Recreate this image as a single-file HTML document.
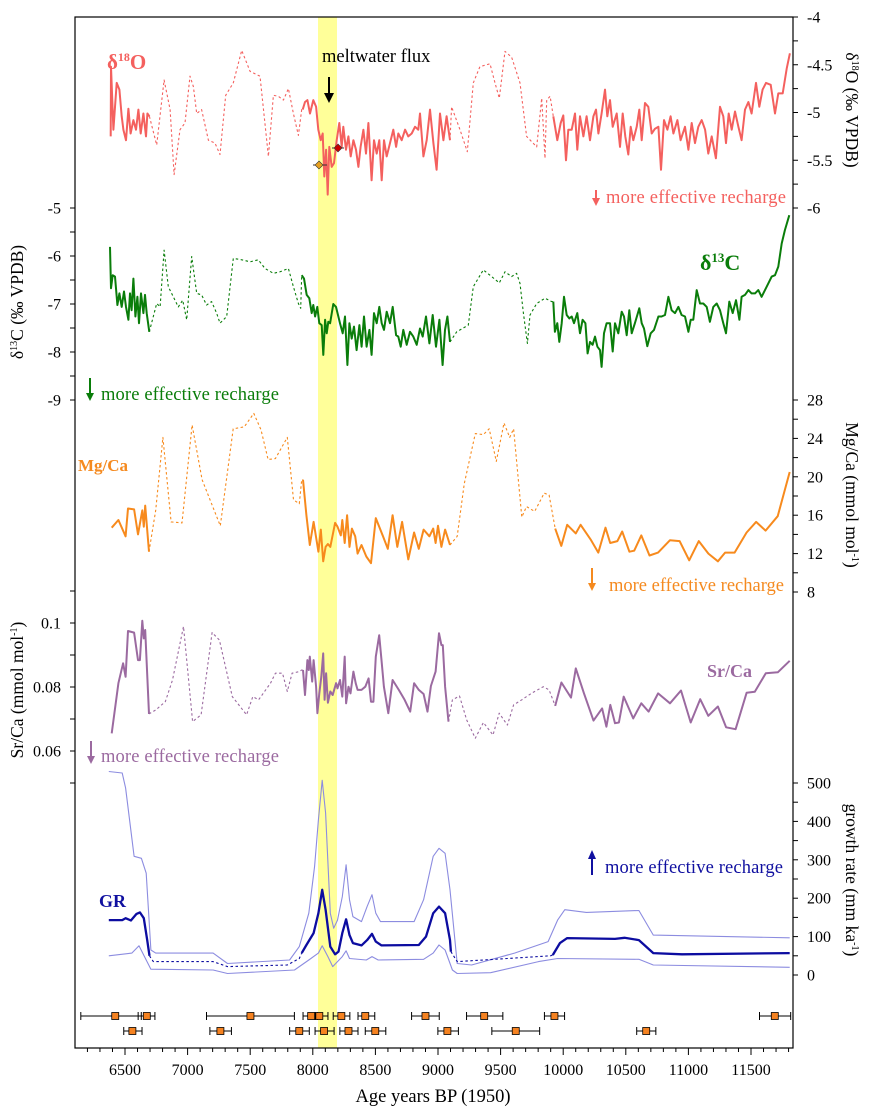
<!DOCTYPE html>
<html><head><meta charset="utf-8"><style>
html,body{margin:0;padding:0;background:#fff;}
svg{display:block;font-family:"Liberation Serif",serif;}
</style></head><body>
<svg id="chart" width="871" height="1114" viewBox="0 0 871 1114" xmlns="http://www.w3.org/2000/svg">
<rect x="318" y="17" width="19" height="1031" fill="#ffff99"/>
<g id="marks"></g>
<g id="axes"></g>
<g id="annot">
<text x="107" y="69" fill="#f4605e" font-weight="bold" font-size="21">δ<tspan font-size="12" dy="-8">18</tspan><tspan dy="8">O</tspan></text>
<text x="322" y="62" font-size="18.5" fill="#000">meltwater flux</text>
<line x1="329" y1="77" x2="329" y2="94" stroke="#000" stroke-width="2"/>
<polygon points="324,93 334,93 329,103" fill="#000"/>
<line x1="332" y1="148" x2="344" y2="148" stroke="#333" stroke-width="1"/>
<polygon points="338,144 342,148 338,152 334,148" fill="#cc0000" stroke="#333" stroke-width="0.6"/>
<line x1="313" y1="165" x2="327" y2="165" stroke="#333" stroke-width="1"/>
<polygon points="319,161 323,165 319,169 315,165" fill="#e8a020" stroke="#333" stroke-width="0.6"/>

<line x1="596" y1="190" x2="596" y2="199" stroke="#f4605e" stroke-width="2"/>
<polygon points="592,198 600,198 596,206" fill="#f4605e"/>
<text x="606" y="203" font-size="18.5" fill="#f4605e" textLength="180">more effective recharge</text>

<text x="700" y="270" fill="#0a7d0a" font-weight="bold" font-size="22">δ<tspan font-size="13" dy="-8">13</tspan><tspan dy="8">C</tspan></text>
<line x1="90" y1="378" x2="90" y2="394" stroke="#0a7d0a" stroke-width="2"/>
<polygon points="86,393 94,393 90,401" fill="#0a7d0a"/>
<text x="101" y="400" font-size="18.5" fill="#0a7d0a" textLength="178">more effective recharge</text>

<text x="78" y="471" fill="#f58a1f" font-weight="bold" font-size="17">Mg/Ca</text>
<line x1="592" y1="568" x2="592" y2="584" stroke="#f58a1f" stroke-width="2"/>
<polygon points="588,583 596,583 592,591" fill="#f58a1f"/>
<text x="609" y="591" font-size="18.5" fill="#f58a1f" textLength="175">more effective recharge</text>

<text x="707" y="677" fill="#9b6aa0" font-weight="bold" font-size="18">Sr/Ca</text>
<line x1="91" y1="741" x2="91" y2="757" stroke="#9b6aa0" stroke-width="2"/>
<polygon points="87,756 95,756 91,764" fill="#9b6aa0"/>
<text x="101" y="762" font-size="18.5" fill="#9b6aa0" textLength="178">more effective recharge</text>

<text x="99" y="907" fill="#1010a0" font-weight="bold" font-size="18">GR</text>
<line x1="592" y1="858" x2="592" y2="875" stroke="#1010a0" stroke-width="2"/>
<polygon points="588,859 596,859 592,850" fill="#1010a0"/>
<text x="605" y="873" font-size="18.5" fill="#1010a0" textLength="178">more effective recharge</text>

<text transform="translate(846,110) rotate(90)" text-anchor="middle" font-size="17.5">δ<tspan font-size="10" dy="-6">18</tspan><tspan dy="6">O (‰ VPDB)</tspan></text>
<text transform="translate(23,302) rotate(-90)" text-anchor="middle" font-size="17.5">δ<tspan font-size="10" dy="-6">13</tspan><tspan dy="6">C (‰ VPDB)</tspan></text>
<text transform="translate(846,495) rotate(90)" text-anchor="middle" font-size="17.5">Mg/Ca (mmol mol<tspan font-size="10" dy="-6">-1</tspan><tspan dy="6">)</tspan></text>
<text transform="translate(23,690) rotate(-90)" text-anchor="middle" font-size="17.5">Sr/Ca (mmol mol<tspan font-size="10" dy="-6">-1</tspan><tspan dy="6">)</tspan></text>
<text transform="translate(846,880) rotate(90)" text-anchor="middle" font-size="17.5">growth rate (mm ka<tspan font-size="10" dy="-6">-1</tspan><tspan dy="6">)</tspan></text>
<text x="433" y="1102" text-anchor="middle" font-size="18.5">Age years BP (1950)</text>
</g>
</svg>
<script>
// ---------- data ----------
const d18Age=[6386,6388,6407,6434,6455,6474,6487,6508,6527,6545,6567,6588,6607,6625,6647,6668,6679,6695,6753,6812,6860,6892,6939,6979,7019,7046,7073,7112,7166,7219,7259,7304,7365,7432,7499,7578,7645,7685,7725,7765,7805,7845,7885,7911,7919,7938,7957,7978,8004,8026,8044,8063,8079,8092,8106,8119,8132,8151,8169,8191,8212,8231,8244,8265,8284,8303,8324,8345,8364,8382,8404,8425,8444,8470,8489,8510,8531,8550,8569,8590,8617,8643,8665,8683,8710,8737,8763,8790,8816,8843,8856,8883,8910,8936,8963,8989,9016,9043,9069,9096,9109,9176,9234,9282,9335,9415,9455,9490,9535,9588,9655,9708,9788,9828,9855,9868,9895,9921,9953,9980,10001,10022,10041,10068,10094,10113,10134,10161,10187,10214,10241,10262,10281,10307,10334,10352,10374,10395,10427,10454,10475,10496,10520,10539,10560,10587,10608,10627,10653,10680,10707,10733,10760,10781,10805,10832,10858,10880,10912,10938,10973,11000,11026,11053,11079,11106,11133,11159,11186,11220,11252,11279,11300,11322,11346,11372,11399,11425,11452,11479,11505,11540,11566,11593,11620,11657,11692,11718,11753,11785,11811];
const d18Val=[-5.25,-4.52,-5.18,-4.69,-4.76,-5.04,-5.18,-5.29,-4.96,-5.22,-5.08,-5.18,-4.97,-5.22,-5.01,-5.25,-5.01,-5.04,-5.34,-4.66,-4.97,-5.65,-5.18,-5.11,-4.62,-4.73,-5.01,-4.97,-5.29,-5.32,-5.44,-4.82,-4.69,-4.35,-4.57,-4.62,-5.46,-4.82,-4.83,-4.87,-4.75,-5.01,-5.24,-4.97,-4.97,-4.89,-4.87,-5.01,-4.87,-4.94,-5.18,-5.29,-5.22,-5.67,-5.39,-5.86,-5.36,-5.57,-5.53,-5.29,-5.11,-5.36,-5.15,-5.39,-5.25,-5.46,-5.29,-5.39,-5.57,-5.36,-5.18,-5.43,-5.11,-5.71,-5.29,-5.43,-5.29,-5.71,-5.29,-5.46,-5.32,-5.18,-5.36,-5.22,-5.29,-5.18,-5.25,-5.22,-5.15,-5.18,-5.01,-5.46,-5.29,-4.97,-5.32,-5.60,-5.01,-5.29,-5.04,-5.29,-4.94,-5.18,-5.41,-4.69,-4.52,-4.49,-4.69,-4.85,-4.36,-4.42,-4.69,-5.25,-5.36,-4.85,-5.48,-4.87,-4.83,-5.04,-5.29,-5.11,-5.03,-5.50,-5.18,-5.18,-5.01,-5.39,-5.04,-5.25,-5.04,-5.29,-5.04,-4.97,-5.22,-5.01,-4.76,-5.04,-4.87,-5.15,-5.01,-5.36,-5.01,-5.25,-5.44,-5.15,-5.29,-5.15,-4.97,-5.29,-4.90,-4.94,-5.22,-5.17,-5.15,-5.60,-5.08,-5.18,-5.04,-5.22,-5.08,-5.29,-5.15,-5.39,-5.11,-5.32,-5.15,-5.08,-5.18,-5.43,-5.25,-5.48,-4.94,-5.04,-5.32,-5.01,-5.18,-4.99,-5.15,-5.29,-4.97,-4.89,-5.01,-4.69,-4.94,-4.76,-4.69,-4.71,-5.01,-4.80,-4.80,-4.54,-4.38];
const d18Solid=[[6380,6700],[7915,9100],[9915,11820]];

const d13Age=[6380,6388,6402,6420,6439,6455,6474,6492,6508,6527,6540,6553,6567,6583,6599,6612,6628,6647,6660,6673,6694,6726,6753,6780,6812,6846,6886,6926,6961,6993,7033,7073,7112,7152,7192,7232,7259,7312,7365,7432,7499,7565,7618,7685,7738,7805,7845,7885,7903,7911,7930,7951,7972,7991,8004,8018,8036,8052,8071,8084,8098,8111,8124,8138,8164,8185,8217,8239,8257,8276,8292,8311,8329,8350,8372,8390,8409,8430,8452,8470,8489,8510,8531,8550,8569,8590,8617,8638,8665,8683,8702,8723,8750,8776,8803,8830,8856,8878,8904,8931,8958,8984,9011,9037,9056,9075,9096,9149,9242,9282,9362,9429,9490,9535,9588,9628,9655,9682,9714,9735,9788,9855,9908,9921,9934,9953,9969,9988,10006,10028,10049,10068,10086,10113,10134,10155,10177,10195,10214,10235,10254,10273,10294,10307,10326,10347,10374,10395,10414,10440,10467,10486,10507,10528,10547,10573,10608,10627,10645,10672,10699,10725,10760,10786,10813,10840,10866,10893,10920,10946,10973,11000,11018,11039,11066,11093,11119,11146,11172,11199,11226,11252,11279,11300,11327,11354,11380,11407,11425,11452,11479,11505,11532,11558,11585,11612,11638,11665,11692,11718,11745,11771,11806];
const d13Val=[-5.81,-6.67,-6.40,-6.43,-7.02,-6.78,-7.06,-6.74,-7.06,-7.33,-6.78,-7.13,-6.47,-7.26,-6.85,-7.40,-6.78,-7.19,-6.81,-7.19,-7.58,-7.26,-6.99,-7.06,-5.88,-6.64,-6.85,-7.06,-6.92,-7.33,-6.01,-6.78,-6.81,-7.02,-6.95,-7.19,-7.40,-7.26,-6.05,-6.08,-6.12,-6.08,-6.26,-6.36,-6.33,-6.26,-6.64,-6.99,-7.09,-6.40,-6.47,-6.81,-6.88,-7.19,-7.02,-7.26,-7.06,-7.40,-7.44,-8.06,-7.33,-7.61,-7.37,-7.40,-7.00,-7.06,-7.40,-7.61,-7.26,-8.27,-7.40,-7.72,-7.47,-7.96,-7.44,-7.89,-7.26,-7.89,-7.54,-8.06,-7.19,-7.40,-7.06,-7.40,-7.54,-7.16,-7.40,-7.06,-7.65,-7.68,-7.89,-7.54,-7.85,-7.58,-7.68,-7.85,-7.51,-7.68,-7.26,-7.82,-7.23,-7.89,-7.33,-8.27,-7.54,-7.26,-7.79,-7.58,-7.44,-6.64,-6.29,-6.43,-6.56,-6.33,-6.43,-6.36,-6.57,-7.19,-7.82,-7.23,-6.99,-6.88,-6.95,-6.95,-7.58,-7.40,-7.79,-7.40,-6.85,-7.23,-7.30,-7.26,-7.40,-7.19,-7.61,-7.33,-7.40,-8.03,-7.79,-7.85,-7.68,-7.89,-7.96,-8.31,-7.61,-7.40,-7.40,-7.99,-7.40,-7.61,-7.16,-7.26,-7.65,-7.13,-7.61,-7.40,-7.09,-7.40,-7.51,-7.88,-7.61,-7.54,-7.26,-7.26,-7.23,-6.85,-7.13,-7.19,-7.06,-7.23,-7.26,-7.58,-7.33,-7.33,-6.71,-6.99,-6.99,-7.06,-7.37,-7.06,-6.99,-7.13,-7.40,-7.61,-6.95,-7.19,-6.92,-7.33,-6.85,-6.81,-6.71,-6.78,-6.78,-6.71,-6.85,-6.71,-6.57,-6.43,-6.40,-6.22,-5.74,-5.46,-5.15];
const d13Solid=[[6375,6700],[7905,9100],[9915,11820]];

const mgAge=[6394,6447,6505,6524,6573,6604,6638,6650,6661,6692,6745,6803,6868,6955,7036,7116,7261,7364,7452,7529,7586,7643,7701,7796,7846,7892,7911,7922,7949,7976,8006,8045,8064,8083,8102,8121,8140,8178,8197,8224,8236,8255,8274,8293,8312,8339,8358,8389,8427,8465,8503,8561,8599,8637,8675,8713,8763,8809,8847,8885,8931,8962,8981,9000,9027,9057,9096,9153,9210,9298,9363,9409,9466,9527,9573,9604,9669,9707,9772,9848,9887,9936,9985,10032,10101,10139,10223,10280,10338,10375,10433,10471,10529,10567,10624,10689,10758,10853,10930,11006,11083,11160,11236,11293,11369,11465,11541,11617,11713,11809];
const mgVal=[14.7,15.5,13.8,16.7,16.6,14.0,16.5,14.8,17.0,12.2,16.5,24.1,15.3,15.2,25.4,19.7,14.9,25.0,25.2,26.6,24.9,21.8,21.9,24.1,17.6,17.2,19.7,19.7,16.0,12.9,15.3,12.2,14.5,11.2,12.7,13.0,12.7,15.2,14.8,13.9,15.5,13.1,16.0,12.7,14.6,13.8,12.0,12.9,11.7,11.0,15.7,13.8,12.5,16.0,12.7,15.3,11.4,14.2,12.5,14.5,13.8,14.6,13.1,14.9,12.7,14.5,12.9,13.8,19.3,24.5,24.4,25.0,21.6,25.6,24.1,25.0,15.8,16.9,16.4,18.3,18.1,14.6,12.8,15.0,14.1,15.0,13.4,12.1,14.7,13.1,13.3,14.3,12.2,12.3,13.9,11.8,12.1,13.4,13.3,11.3,13.3,12.0,11.2,12.1,12.1,14.2,15.3,14.4,15.9,20.5];
const mgSolid=[[6390,6695],[7920,9100],[9930,11820]];

const srAge=[6394,6447,6485,6505,6524,6573,6604,6619,6638,6650,6661,6692,6745,6822,6879,6967,7040,7108,7196,7254,7357,7471,7521,7567,7662,7701,7758,7796,7835,7892,7911,7922,7938,7957,7968,7976,7995,8006,8026,8037,8052,8068,8083,8094,8106,8121,8140,8159,8186,8197,8217,8236,8255,8266,8285,8301,8324,8343,8358,8389,8419,8446,8465,8484,8503,8530,8549,8568,8603,8637,8687,8733,8778,8809,8847,8885,8916,8943,8981,9008,9027,9038,9057,9084,9115,9172,9229,9298,9363,9439,9489,9554,9604,9669,9745,9841,9887,9936,9986,10062,10101,10166,10242,10311,10345,10376,10414,10445,10483,10559,10624,10682,10758,10853,10941,11018,11094,11159,11236,11301,11377,11465,11530,11618,11714,11809];
const srVal=[0.0655,0.0812,0.0874,0.0832,0.0975,0.0970,0.0884,0.0884,0.1007,0.0952,0.0978,0.0716,0.0728,0.0754,0.0822,0.0989,0.0692,0.0713,0.0970,0.0947,0.0770,0.0713,0.0770,0.0760,0.0812,0.0843,0.0843,0.0786,0.0843,0.0848,0.0853,0.0853,0.0775,0.0884,0.0853,0.0895,0.0817,0.0884,0.0801,0.0718,0.0780,0.0832,0.0905,0.0760,0.0843,0.0751,0.0786,0.0775,0.0812,0.0796,0.0822,0.0770,0.0895,0.0749,0.0801,0.0780,0.0848,0.0812,0.0791,0.0791,0.0801,0.0827,0.0754,0.0754,0.0895,0.0962,0.0884,0.0801,0.0718,0.0822,0.0791,0.0760,0.0723,0.0812,0.0791,0.0778,0.0723,0.0803,0.0848,0.0968,0.0931,0.0931,0.0801,0.0692,0.0760,0.0772,0.0697,0.0640,0.0689,0.0650,0.0718,0.0681,0.0744,0.0760,0.0780,0.0801,0.0791,0.0741,0.0814,0.0767,0.0858,0.0780,0.0695,0.0733,0.0676,0.0744,0.0687,0.0689,0.0770,0.0702,0.0749,0.0723,0.0780,0.0749,0.0789,0.0689,0.0762,0.0710,0.0739,0.0674,0.0668,0.0782,0.0785,0.0843,0.0846,0.0882];
const srSolid=[[6390,6695],[7920,9090],[9930,11820]];

const grAge=[6371,6478,6505,6547,6592,6619,6650,6677,6696,6726,7204,7319,7796,7892,7911,7949,8006,8045,8075,8102,8140,8178,8205,8236,8266,8293,8320,8389,8434,8473,8503,8549,8847,8904,8962,9008,9057,9096,9103,9153,9554,9898,9917,9974,10032,10414,10490,10605,10720,10949,11809];
const grVal=[143,143,148,142,159,163,148,91,50,35,35,22,26,43,57,78,109,161,222,170,74,54,61,109,145,104,83,77,91,107,87,77,78,100,161,178,161,91,61,35,43,50,52,83,96,94,97,91,57,54,57];
const grSolid=[[6365,6700],[7905,9105],[9915,11820]];
const grUpAge=[6371,6478,6505,6573,6631,6669,6707,6745,7204,7319,7815,7892,7968,8014,8045,8075,8102,8140,8167,8197,8236,8266,8293,8320,8389,8434,8473,8503,8541,8809,8885,8962,9008,9057,9096,9153,9268,9611,9879,9955,10013,10185,10605,10720,11809];
const grUpVal=[530,526,487,309,304,265,65,57,57,30,39,74,161,283,404,507,422,161,122,143,204,287,196,152,139,178,209,161,139,139,196,309,330,317,222,30,26,57,87,143,170,163,168,104,97];
const grLoAge=[6371,6554,6612,6669,6707,7204,7319,7854,7968,8045,8075,8121,8159,8236,8266,8293,8427,8473,8522,8885,8962,9008,9057,9115,9153,9420,9803,9955,10605,10720,11809];
const grLoVal=[50,57,76,39,15,13,4,13,39,57,76,48,22,48,63,43,39,48,39,41,57,78,65,13,4,6,35,43,41,26,20];

const dateRow1=[6422,6674,7502,7987,8052,8228,8419,8900,9369,9930,11690];
const dateRow1Lo=[6147,6605,7151,7922,8018,8163,8361,8789,9228,9850,11568];
const dateRow1Hi=[6630,6739,7853,8037,8121,8296,8495,9010,9518,10011,11817];
const dateRow2=[6559,7262,7892,8090,8285,8499,9075,9621,10663];
const dateRow2Lo=[6490,7178,7815,8018,8216,8419,8999,9430,10587];
const dateRow2Hi=[6636,7350,7972,8170,8361,8583,9163,9812,10740];

const xTicks=[6500,7000,7500,8000,8500,9000,9500,10000,10500,11000,11500];
const d18Ticks=[-4,-4.5,-5,-5.5,-6];
const d13Ticks=[-5,-6,-7,-8,-9];
const mgTicks=[8,12,16,20,24,28];
const srTicks=[0.06,0.08,0.1];
const grTicks=[0,100,200,300,400,500];

// ---------- scales ----------
const X0=75,X1=793,Y0=17,Y1=1048;
const x=a=>125+(a-6500)*0.1252;
const yD18=v=>17+(-4-v)*95.5;
const yD13=v=>208+(-5-v)*48;
const yMg=v=>400+(28-v)*9.6;
const ySr=v=>623+(0.1-v)*3200;
const yGR=v=>975-v*0.384;

const NS="http://www.w3.org/2000/svg";
const marks=document.getElementById('marks');
const axes=document.getElementById('axes');
function mk(tag,attrs,parent){const e=document.createElementNS(NS,tag);for(const k in attrs)e.setAttribute(k,attrs[k]);parent.appendChild(e);return e;}

function inSolid(a,ranges){return ranges.some(r=>a>=r[0]&&a<=r[1]);}
function drawSeries(ages,vals,ys,solid,color,sw,name){
  const g=mk('g',{},marks);
  
  
  let curType=null,pts=[];
  const flush=()=>{if(pts.length>1){const p=mk('polyline',{points:pts.join(' '),fill:'none',stroke:color,'stroke-width':curType?sw:1.1,'stroke-linejoin':'round','stroke-dasharray':curType?'none':'2.5,2.5'},g);
    
    }};
  for(let i=0;i<ages.length-1;i++){
    const t=solid?(inSolid(ages[i],solid)&&inSolid(ages[i+1],solid)):true;
    const p1=x(ages[i]).toFixed(1)+','+ys(vals[i]).toFixed(1), p2=x(ages[i+1]).toFixed(1)+','+ys(vals[i+1]).toFixed(1);
    if(t!==curType){flush();pts=[p1];curType=t;}
    pts.push(p2);
  }
  flush();
}
drawSeries(grUpAge,grUpVal,yGR,null,'#8c8ce0',1.1,'gr-upper-bound');
drawSeries(grLoAge,grLoVal,yGR,null,'#8c8ce0',1.1,'gr-lower-bound');
drawSeries(grAge,grVal,yGR,grSolid,'#0c0ca0',2.3,'growth-rate');
drawSeries(d18Age,d18Val,yD18,d18Solid,'#f4605e',2,'d18o');
drawSeries(d13Age,d13Val,yD13,d13Solid,'#0a7d0a',2,'d13c');
drawSeries(mgAge,mgVal,yMg,mgSolid,'#f78a1d',2,'mgca');
drawSeries(srAge,srVal,ySr,srSolid,'#9b6aa0',2,'srca');

function drawDates(c,lo,hi,yy,row){
  for(let i=0;i<c.length;i++){
    const g=mk('g',{},marks);
    
    
    mk('line',{x1:x(lo[i]),x2:x(hi[i]),y1:yy,y2:yy,stroke:'#000','stroke-width':1},g);
    mk('line',{x1:x(lo[i]),x2:x(lo[i]),y1:yy-4,y2:yy+4,stroke:'#000','stroke-width':1},g);
    mk('line',{x1:x(hi[i]),x2:x(hi[i]),y1:yy-4,y2:yy+4,stroke:'#000','stroke-width':1},g);
    mk('rect',{x:x(c[i])-3.5,y:yy-3.5,width:7,height:7,fill:'#f58220',stroke:'#000','stroke-width':0.8},g);
  }
}
drawDates(dateRow1,dateRow1Lo,dateRow1Hi,1016,'row1');
drawDates(dateRow2,dateRow2Lo,dateRow2Hi,1031,'row2');

const frame=mk('rect',{x:X0,y:Y0,width:X1-X0,height:Y1-Y0,fill:'none',stroke:'#000','stroke-width':1.2},axes);



for(let a=6200;a<=11800;a+=100){
  const major=a%500===0;
  const t=mk('line',{x1:x(a),x2:x(a),y1:Y1,y2:Y1+(major?7:4),stroke:'#000','stroke-width':1},axes);
  
  
}
xTicks.forEach(a=>{
  const t=mk('text',{x:x(a),y:Y1+27,'text-anchor':'middle','font-size':16},axes);
  t.textContent=a;
  
  
});

function yAxis(ticks,minorStep,lo,hi,ys,side,name,fmt){
  const xa=side==='r'?X1:X0, dir=side==='r'?1:-1;
  for(let v=lo;v<=hi+1e-9;v+=minorStep){
    const t=mk('line',{x1:xa,x2:xa+dir*5,y1:ys(v),y2:ys(v),stroke:'#000','stroke-width':1},axes);
    
    
  }
  ticks.forEach(v=>{
    const t=mk('text',{x:xa+dir*14,y:ys(v)+5.5,'text-anchor':side==='r'?'start':'end','font-size':16},axes);
    t.textContent=fmt?fmt(v):v;
    
    
  });
}
yAxis(d18Ticks,0.25,-6,-4,yD18,'r','d18o-axis');
yAxis(d13Ticks,0.5,-9,-5,yD13,'l','d13c-axis');
yAxis(mgTicks,2,8,28,yMg,'r','mgca-axis');
yAxis(srTicks,0.01,0.05,0.11,ySr,'l','srca-axis',v=>String(+v.toFixed(2)));
yAxis(grTicks,50,0,500,yGR,'r','gr-axis');
</script>
</body></html>
